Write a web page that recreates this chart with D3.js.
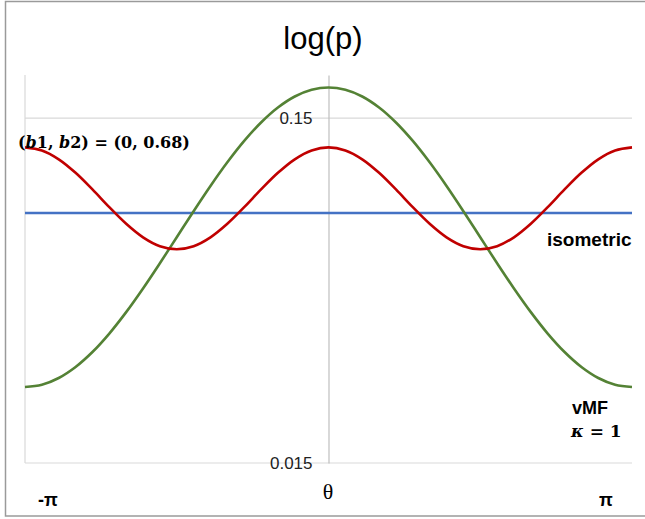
<!DOCTYPE html>
<html><head><meta charset="utf-8">
<script src="https://cdn.jsdelivr.net/npm/d3@7"></script>
<style>body{margin:0;background:#fff}svg{display:block}</style>
</head><body><svg id="c" width="645" height="519"></svg>
<script>
// angle samples in degrees (-180..180)
const thetaDeg = [-180,-170,-160,-150,-140,-130,-120,-110,-100,-90,-80,-70,-60,-50,-40,-30,-20,-10,0,10,20,30,40,50,60,70,80,90,100,110,120,130,140,150,160,170,180];
const vmfValues = [0.02491,0.02529,0.02646,0.02848,0.03147,0.03560,0.04107,0.04810,0.05692,0.06771,0.08055,0.09533,0.11164,0.12878,0.14568,0.16099,0.17329,0.18129,0.18407,0.18129,0.17329,0.16099,0.14568,0.12878,0.11164,0.09533,0.08055,0.06771,0.05692,0.04810,0.04107,0.03560,0.03147,0.02848,0.02646,0.02529,0.02491];
const b12Values = [0.12337,0.12086,0.11393,0.10408,0.09315,0.08277,0.07408,0.06768,0.06379,0.06250,0.06379,0.06768,0.07408,0.08277,0.09315,0.10408,0.11393,0.12086,0.12337,0.12086,0.11393,0.10408,0.09315,0.08277,0.07408,0.06768,0.06379,0.06250,0.06379,0.06768,0.07408,0.08277,0.09315,0.10408,0.11393,0.12086,0.12337];
const isoValues = [0.0796,0.0796,0.0796,0.0796,0.0796,0.0796,0.0796,0.0796,0.0796,0.0796,0.0796,0.0796,0.0796,0.0796,0.0796,0.0796,0.0796,0.0796,0.0796,0.0796,0.0796,0.0796,0.0796,0.0796,0.0796,0.0796,0.0796,0.0796,0.0796,0.0796,0.0796,0.0796,0.0796,0.0796,0.0796,0.0796,0.0796];
const yTickValues = [0.015, 0.15];
const yTickLabels = ["0.015", "0.15"];
const xLabels = ["-π", "θ", "π"];
const yDomain = [0.015, 0.2];

const svg = d3.select("#c");
const L = 25, R = 632, T = 75, B = 463;
const x = d3.scaleLinear().domain([-180, 180]).range([L, R]);
const y = d3.scaleLog().domain(yDomain).range([B, T]);

// outer border
svg.append("rect").attr("x", 5.5).attr("y", 1.5).attr("width", 700).attr("height", 514.5)
  .attr("fill", "none").attr("stroke", "#9a9a9a").attr("stroke-width", 1.5);

// title
svg.append("text").attr("x", 323).attr("y", 49).attr("text-anchor", "middle")
  .attr("font-family", "Liberation Sans, Arial, sans-serif").attr("font-size", 31).attr("fill", "#000").text("log(p)");

// plot frame lines
svg.append("line").attr("x1", L).attr("x2", L).attr("y1", T).attr("y2", B).attr("stroke", "#d9d9d9").attr("stroke-width", 1.2);
svg.append("g").selectAll("line").data(yTickValues).join("line")
  .attr("x1", L).attr("x2", R).attr("y1", d => y(d)).attr("y2", d => y(d))
  .attr("stroke", "#d9d9d9").attr("stroke-width", 1.2);

// vertical axis at theta = 0
const ax = svg.append("g").attr("transform", `translate(${x(0)},0)`)
  .call(d3.axisLeft(y).tickValues(yTickValues).tickFormat((d, i) => yTickLabels[i]).tickSize(0).tickPadding(16));
ax.select(".domain").attr("stroke", "#bfbfbf").attr("stroke-width", 1.2);
ax.selectAll("text").attr("font-family", "Liberation Sans, Arial, sans-serif").attr("font-size", 17).attr("fill", "#222");

// lines
const line = d3.line().x((d, i) => x(thetaDeg[i])).y(d => y(d)).curve(d3.curveCatmullRom);
const series = [
  {vals: isoValues, color: "#4472C4"},
  {vals: vmfValues, color: "#548235"},
  {vals: b12Values, color: "#C00000"}
];
svg.append("g").selectAll("path").data(series).join("path")
  .attr("d", d => line(d.vals)).attr("fill", "none").attr("stroke", d => d.color).attr("stroke-width", 2.6);

// annotations
svg.append("text").attr("x", 18).attr("y", 148)
  .attr("font-family", "DejaVu Serif, Liberation Serif, serif").attr("font-weight", "bold").attr("font-size", 16).attr("fill", "#000")
  .html('(<tspan font-style="italic">b</tspan>1, <tspan font-style="italic">b</tspan>2) = (0, 0.68)');
svg.append("text").attr("x", 547).attr("y", 246)
  .attr("font-family", "Liberation Sans, Arial, sans-serif").attr("font-weight", "bold").attr("font-size", 19).attr("fill", "#000").text("isometric");
svg.append("text").attr("x", 572).attr("y", 414)
  .attr("font-family", "Liberation Sans, Arial, sans-serif").attr("font-weight", "bold").attr("font-size", 18).attr("fill", "#000").text("vMF");
svg.append("text").attr("x", 571).attr("y", 437)
  .attr("font-family", "DejaVu Serif, Liberation Serif, serif").attr("font-weight", "bold").attr("font-size", 17).attr("fill", "#000")
  .html('<tspan font-style="italic">κ</tspan> = 1');

// x labels
const xl = [{t: xLabels[0], x: 48, bold: true, fs: 18, ff: "Liberation Sans, Arial, sans-serif", yy: 506},
            {t: xLabels[1], x: 328, bold: false, fs: 22, ff: "Liberation Serif, Times New Roman, serif", yy: 499},
            {t: xLabels[2], x: 606, bold: true, fs: 18, ff: "Liberation Sans, Arial, sans-serif", yy: 506}];
svg.append("g").selectAll("text").data(xl).join("text")
  .attr("x", d => d.x).attr("y", d => d.yy).attr("text-anchor", "middle")
  .attr("font-family", d => d.ff).attr("font-weight", d => d.bold ? "bold" : "normal").attr("font-size", d => d.fs)
  .attr("fill", "#000").text(d => d.t);
</script></body></html>
